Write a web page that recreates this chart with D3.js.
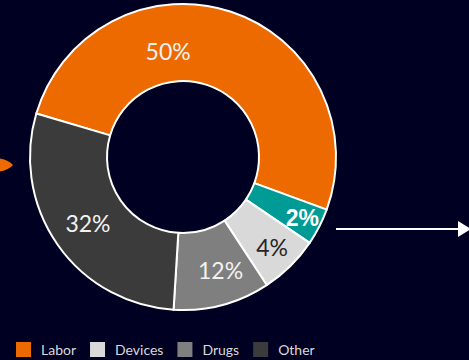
<!DOCTYPE html>
<html>
<head>
<meta charset="utf-8">
<script src="https://cdn.jsdelivr.net/npm/d3@7"></script>
<style>
  body { margin: 0; background: #000022; }
  svg { display: block; }
</style>
</head>
<body>
<script>
var categories = ["Labor", "Teal", "Devices", "Drugs", "Other"];
var values = [51.0, 3.9, 6.3, 10.2, 28.6];
var labels = ["50%", "2%", "4%", "12%", "32%"];
var colors = ["#ec6a00", "#009b95", "#d9d9d9", "#7f7f7f", "#3b3b3b"];
var legendKeys = ["Labor", "Devices", "Drugs", "Other"];

var width = 469, height = 360;
var cx = 183, cy = 157,
    outerR = 153, innerR = 76;

var svg = d3.select("body").append("svg")
    .attr("width", width)
    .attr("height", height);

svg.append("rect")
    .attr("width", width)
    .attr("height", height)
    .attr("fill", "#000022");

var color = d3.scaleOrdinal().domain(categories).range(colors);

var startA = -73.5 * Math.PI / 180;
var pie = d3.pie()
    .sort(null)
    .value(function(d) { return d.value; })
    .startAngle(startA)
    .endAngle(startA + 2 * Math.PI);

var data = categories.map(function(c, i) {
  return {key: c, value: values[i], label: labels[i]};
});

var arc = d3.arc().innerRadius(innerR).outerRadius(outerR);

var g = svg.append("g")
    .attr("transform", "translate(" + cx + "," + cy + ")");

var arcs = pie(data);

g.selectAll("path.slice")
    .data(arcs)
  .enter().append("path")
    .attr("class", "slice")
    .attr("d", arc)
    .attr("fill", function(d) { return color(d.data.key); })
    .attr("stroke", "#ffffff")
    .attr("stroke-width", 2)
    .attr("stroke-linejoin", "round");

// label placement: radius per slice, labor label pulled toward the top
var labelStyle = {
  Labor:   {r: 106, shift: -0.46, fill: "#f2f2f2", font: "Lato", weight: 400},
  Teal:    {r: 134, shift: 0, fill: "#ffffff", font: "Liberation Sans", weight: 700},
  Devices: {r: 127, shift: 0, fill: "#262626", font: "Lato", weight: 400},
  Drugs:   {r: 120, shift: -0.06, fill: "#f2f2f2", font: "Lato", weight: 400},
  Other:   {r: 116, shift: 0, fill: "#f2f2f2", font: "Lato", weight: 400}
};

g.selectAll("text.lbl")
    .data(arcs)
  .enter().append("text")
    .attr("class", "lbl")
    .attr("transform", function(d) {
      var s = labelStyle[d.data.key];
      var a = (d.startAngle + d.endAngle) / 2 + s.shift;
      return "translate(" + (Math.sin(a) * s.r) + "," + (-Math.cos(a) * s.r) + ")";
    })
    .attr("text-anchor", "middle")
    .attr("dy", "0.36em")
    .attr("font-family", function(d) { return labelStyle[d.data.key].font; })
    .attr("font-weight", function(d) { return labelStyle[d.data.key].weight; })
    .attr("font-size", 23)
    .attr("fill", function(d) { return labelStyle[d.data.key].fill; })
    .text(function(d) { return d.data.label; });

// arrow on the right
svg.append("line")
    .attr("x1", 336).attr("y1", 229)
    .attr("x2", 460).attr("y2", 229)
    .attr("stroke", "#ffffff")
    .attr("stroke-width", 2);
svg.append("path")
    .attr("d", "M458,221 L471,229 L458,237 Z")
    .attr("fill", "#ffffff");

// cut-off orange arrow head on the left edge
svg.append("path")
    .attr("d", "M-4,158 Q8,159 13,165 Q8,171 -4,172 Z")
    .attr("fill", "#ec6a00");

// legend
var legend = svg.append("g").attr("transform", "translate(16,342)");
var xPos = 0;
legendKeys.forEach(function(k) {
  var item = legend.append("g").attr("transform", "translate(" + xPos + ",0)");
  item.append("rect")
      .attr("width", 15).attr("height", 15)
      .attr("fill", color(k));
  var t = item.append("text")
      .attr("x", 25).attr("y", 7.5)
      .attr("dy", "0.36em")
      .attr("font-family", "Lato")
      .attr("font-size", 14)
      .attr("fill", "#d9d9d9")
      .text(k);
  xPos += 25 + t.node().getComputedTextLength() + 14;
});
</script>
</body>
</html>
